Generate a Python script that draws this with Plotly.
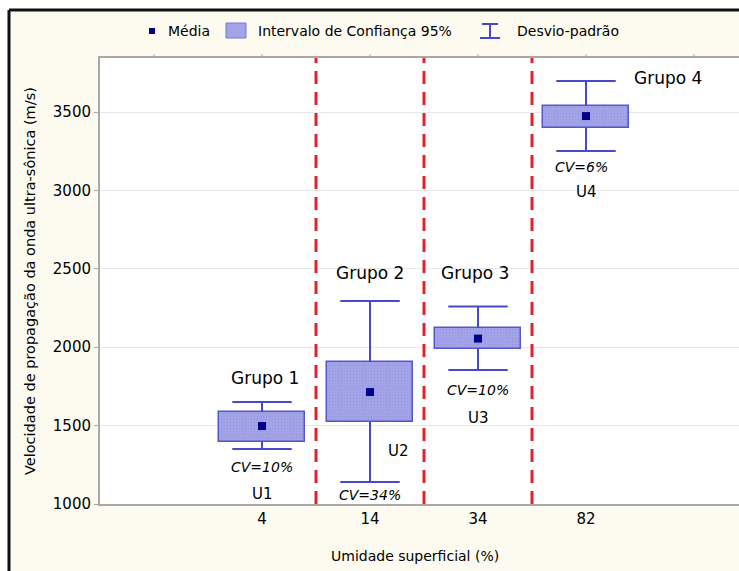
import plotly.graph_objects as go

# ---- data ----
groups = ["4", "14", "34", "82"]
mean = [1497, 1714, 2055, 3474]
ci_low = [1395, 1523, 1989, 3398]
ci_high = [1587, 1906, 2122, 3538]
sd_low = [1351, 1140, 1855, 3251]
sd_high = [1650, 2295, 2260, 3698]
group_names = ["Grupo 1", "Grupo 2", "Grupo 3", "Grupo 4"]
cv_labels = ["CV=10%", "CV=34%", "CV=10%", "CV=6%"]
u_labels = ["U1", "U2", "U3", "U4"]

# ---- layout constants ----
W, H = 739, 571
ML, MR, MT, MB = 100, 0, 58, 67
PW, PH = W - ML - MR, H - MT - MB

def px(x):
    return (x - ML) / PW

def py(y):
    return (H - MB - y) / PH

FONT = "DejaVu Sans"
TXT = "#000000"
BOX_FILL = "#A3A3E8"
BOX_LINE = "#5555CC"
WHISK = "#4747CF"
MEAN_C = "#00008B"
AXC = "#A8A8A8"

idx = list(range(len(groups)))
cap = 0.275

fig = go.Figure()

# boxes (95% CI)
fig.add_trace(go.Bar(
    x=idx,
    y=[h - l for h, l in zip(ci_high, ci_low)],
    base=ci_low,
    width=0.8,
    marker=dict(color=BOX_FILL, line=dict(color=BOX_LINE, width=1.5),
                pattern=dict(shape=".", size=3, solidity=0.25, fgcolor="#8888D8")),
    showlegend=False, hoverinfo="skip",
))

# whiskers (standard deviation)
wx, wy = [], []
for i in idx:
    wx += [i, i, None, i, i, None,
           i - cap, i + cap, None, i - cap, i + cap, None]
    wy += [ci_high[i], sd_high[i], None, ci_low[i], sd_low[i], None,
           sd_high[i], sd_high[i], None, sd_low[i], sd_low[i], None]
fig.add_trace(go.Scatter(x=wx, y=wy, mode="lines",
                         line=dict(color=WHISK, width=2),
                         showlegend=False, hoverinfo="skip"))

# means
fig.add_trace(go.Scatter(x=idx, y=mean, mode="markers",
                         marker=dict(symbol="square", size=8, color=MEAN_C),
                         showlegend=False))

shapes = []
# red dashed separators
for i in idx[:-1]:
    shapes.append(dict(type="line", xref="x", yref="paper", x0=i + 0.5, x1=i + 0.5,
                       y0=0, y1=1, line=dict(color="#E4212B", width=3, dash="13px,8px")))

# top tick marks
for t in [-1] + idx + [4]:
    shapes.append(dict(type="line", xref="x", yref="paper", x0=t, x1=t,
                       y0=1, y1=1 + 4 / PH, line=dict(color=AXC, width=1)))

# outer frame: white margin strips + black lines
shapes.append(dict(type="rect", xref="paper", yref="paper", x0=px(0), x1=px(9),
                   y0=py(H), y1=py(0), fillcolor="white", line=dict(width=0), layer="above"))
shapes.append(dict(type="rect", xref="paper", yref="paper", x0=px(0), x1=px(W),
                   y0=py(10), y1=py(0), fillcolor="white", line=dict(width=0), layer="above"))
shapes.append(dict(type="line", xref="paper", yref="paper", x0=px(9), x1=px(W),
                   y0=py(10), y1=py(10), line=dict(color="#111111", width=3)))
shapes.append(dict(type="line", xref="paper", yref="paper", x0=px(9), x1=px(9),
                   y0=py(10), y1=py(H), line=dict(color="#111111", width=3)))

# manual legend
shapes.append(dict(type="rect", xref="paper", yref="paper", x0=px(149), x1=px(155),
                   y0=py(34), y1=py(28), fillcolor=MEAN_C, line=dict(width=0)))
shapes.append(dict(type="rect", xref="paper", yref="paper", x0=px(226), x1=px(246),
                   y0=py(38), y1=py(23), fillcolor=BOX_FILL, line=dict(color="#7777D4", width=1)))
shapes.append(dict(type="line", xref="paper", yref="paper", x0=px(490), x1=px(490),
                   y0=py(38), y1=py(24), line=dict(color=WHISK, width=2)))
shapes.append(dict(type="line", xref="paper", yref="paper", x0=px(482), x1=px(498),
                   y0=py(24), y1=py(24), line=dict(color=WHISK, width=2)))
shapes.append(dict(type="line", xref="paper", yref="paper", x0=px(480), x1=px(500),
                   y0=py(38), y1=py(38), line=dict(color=WHISK, width=2)))

annotations = []
def ann_px(text, x, y, size=14, anchor="left"):
    annotations.append(dict(text=text, xref="paper", yref="paper", x=px(x), y=py(y),
                            xanchor=anchor, yanchor="middle", showarrow=False,
                            font=dict(family=FONT, size=size, color=TXT)))

ann_px("Média", 166, 31)
ann_px("Intervalo de Confiança 95%", 256, 31)
ann_px("Desvio-padrão", 515, 31)

# axis titles
annotations.append(dict(text="Velocidade de propagação da onda ultra-sônica (m/s)",
                        xref="paper", yref="paper", x=px(30), y=py(281), textangle=-90,
                        xanchor="center", yanchor="middle", showarrow=False,
                        font=dict(family=FONT, size=14.5, color=TXT)))
ann_px("Umidade superficial (%)", 415, 556, size=14, anchor="center")

# group labels (data coordinates)
grp_pos = [(0.03, 1804), (1.0, 2473), (1.97, 2473), (3.76, 3717)]
cv_pos = [(0.0, 1236), (1.0, 1057), (2.0, 1727), (2.96, 3149)]
u_pos = [(0.0, 1064), (1.26, 1338), (2.0, 1548), (3.0, 2990)]
for t, (x, y) in zip(group_names, grp_pos):
    annotations.append(dict(text=t, x=x, y=y, xref="x", yref="y", showarrow=False,
                            font=dict(family=FONT, size=17, color=TXT)))
for t, (x, y) in zip(cv_labels, cv_pos):
    annotations.append(dict(text="<i>" + t + "</i>", x=x, y=y, xref="x", yref="y",
                            showarrow=False,
                            font=dict(family=FONT, size=14, color=TXT)))
for t, (x, y) in zip(u_labels, u_pos):
    annotations.append(dict(text=t, x=x, y=y, xref="x", yref="y", showarrow=False,
                            font=dict(family=FONT, size=15, color=TXT)))

fig.update_layout(
    width=W, height=H,
    margin=dict(l=ML, r=MR, t=MT, b=MB),
    paper_bgcolor="#FDFBEF",
    plot_bgcolor="#FFFFFF",
    showlegend=False,
    bargap=0,
    shapes=shapes,
    annotations=annotations,
    font=dict(family=FONT, size=14, color=TXT),
    xaxis=dict(range=[-1.5, -1.5 + PW / 108.0], tickvals=idx,
               ticktext=groups, showgrid=False, zeroline=False,
               showline=True, linecolor=AXC, linewidth=2, mirror=True,
               ticks="", tickfont=dict(family=FONT, size=15, color=TXT)),
    yaxis=dict(range=[1000, 1000 + PH / 78.4 * 500], tickvals=[1000, 1500, 2000, 2500, 3000, 3500],
               showgrid=True, gridcolor="#E8E8E8", gridwidth=1, zeroline=False,
               showline=True, linecolor=AXC, linewidth=2, mirror=False,
               ticks="outside", ticklen=4, tickcolor=AXC,
               tickfont=dict(family=FONT, size=15, color=TXT)),
)

fig.write_html("out.html", config={"displayModeBar": False},
               post_script="document.body.style.margin='0';document.body.style.overflow='hidden';")
